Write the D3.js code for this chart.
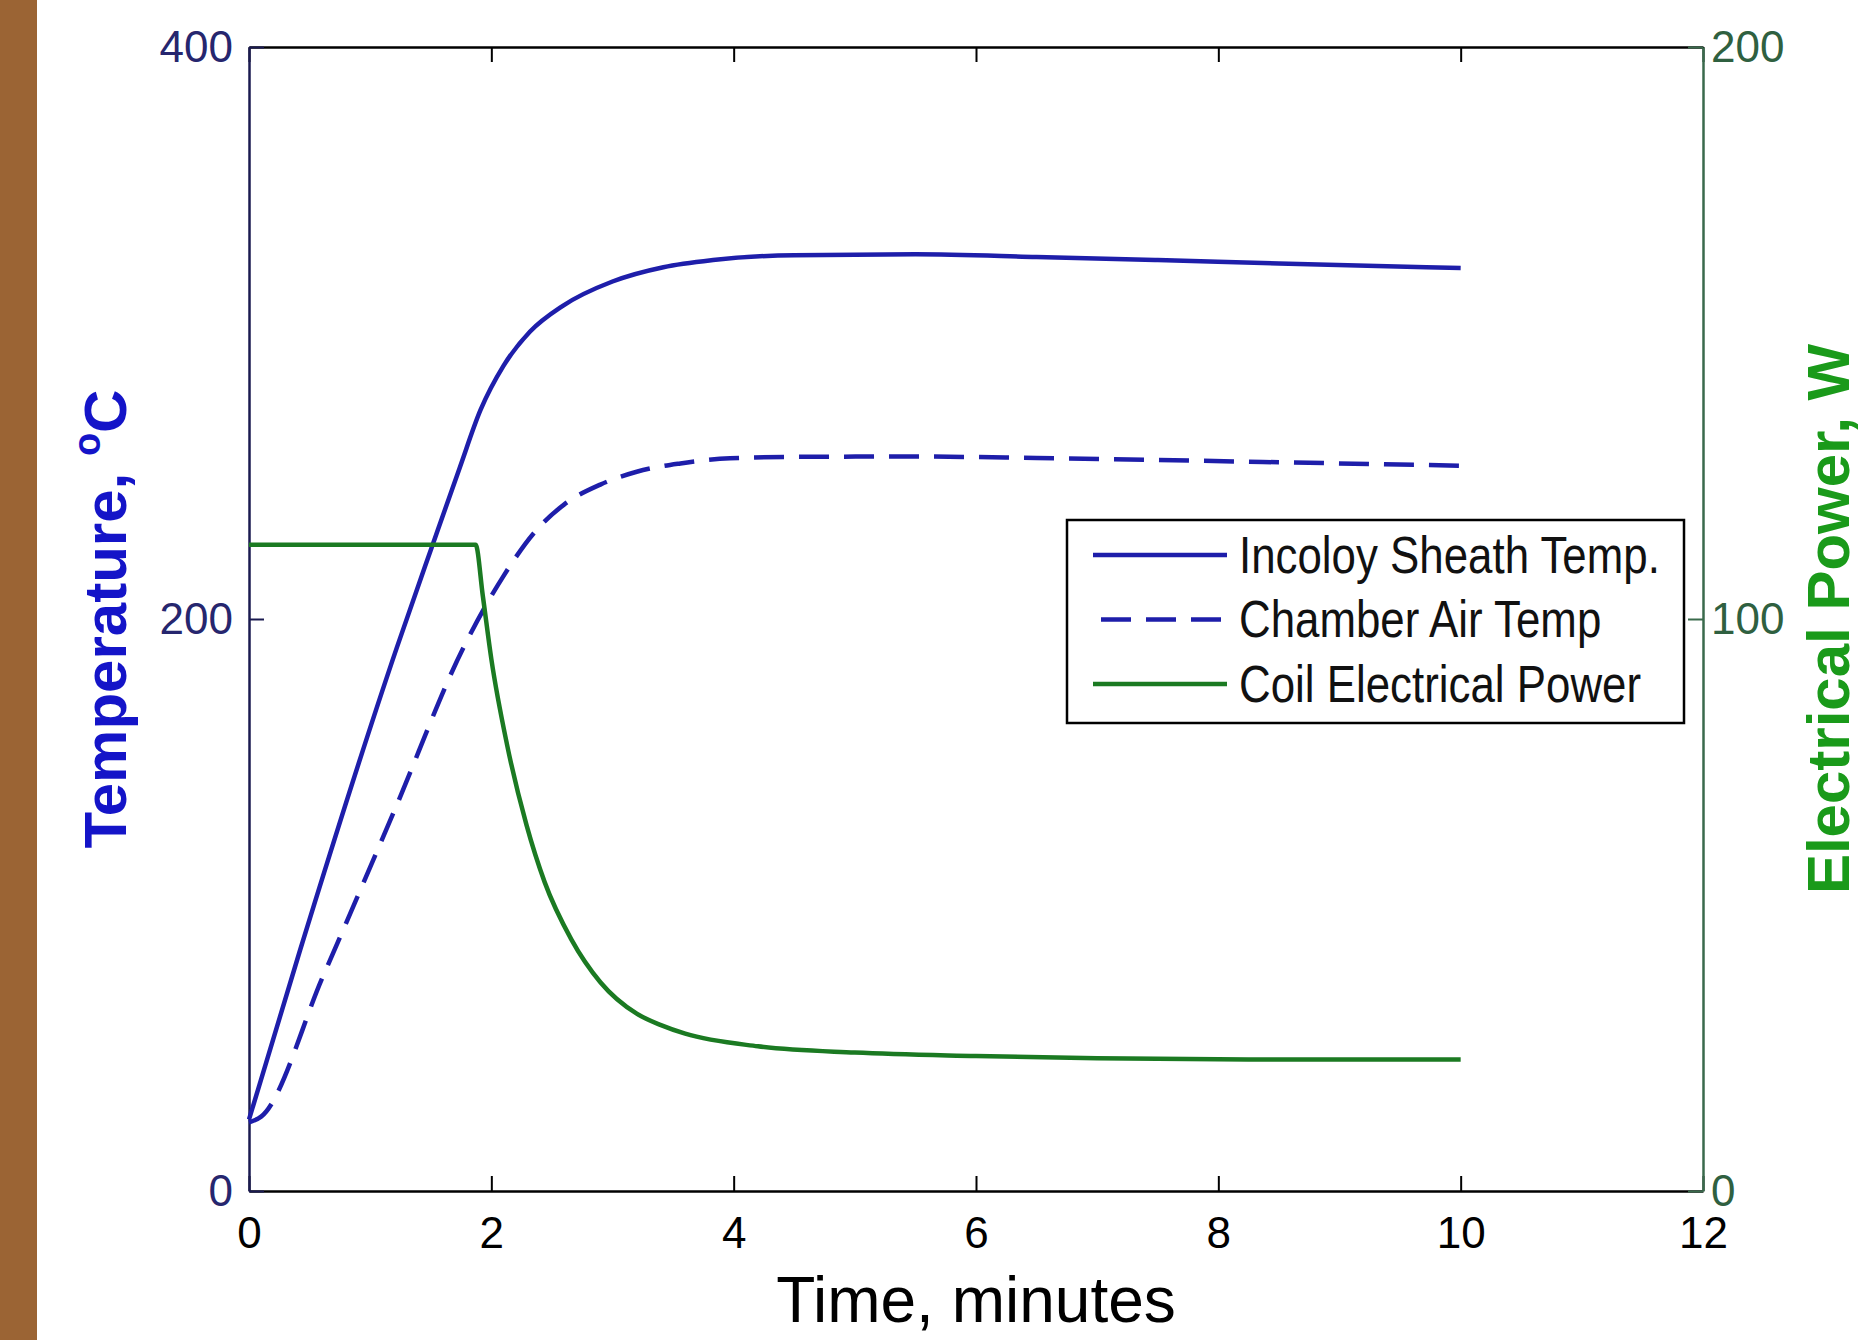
<!DOCTYPE html>
<html>
<head>
<meta charset="utf-8">
<script src="https://cdnjs.cloudflare.com/ajax/libs/d3/7.8.5/d3.min.js"></script>
<style>
  body { margin: 0; background: #fff; }
  .tick text { font-family: "Liberation Sans", Arial, sans-serif; }
</style>
</head>
<body>
<div class="canva"></div>
<script>
// time axis ticks (minutes) and the two y axes
const timeTicks = [0, 2, 4, 6, 8, 10, 12];
const tempTicks = [0, 200, 400];
const powerTicks = [0, 100, 200];

// Incoloy sheath temperature (solid blue)
const sheathTime = [0, 0.42, 1.22, 1.52, 1.74, 1.91, 2.1, 2.32, 2.59, 3.0, 3.42, 3.83, 4.5, 5.5, 6.5, 7.5, 8.5, 10];
const sheathTemp = [25, 84, 190, 226.5, 253, 273, 288.5, 300.5, 309.5, 318, 323, 325.5, 327.2, 327.5, 326.6, 325.5, 324.3, 322.7];

// chamber air temperature (dashed blue)
const airTime = [0, 0.1, 0.61, 1.2, 1.77, 2.1, 2.35, 2.6, 2.9, 3.2, 3.56, 3.97, 4.5, 5.5, 6.5, 7.5, 8.5, 10];
const airTemp = [24, 26, 75, 133, 190, 215, 230, 240, 247, 251.5, 254.4, 256.2, 256.7, 256.8, 256.3, 255.6, 254.8, 253.6];

// coil electrical power (green, right axis)
const powerTime = [0, 1.87, 1.93, 2.0, 2.13, 2.29, 2.44, 2.66, 2.9, 3.2, 3.4, 3.6, 4.2, 5.0, 6.0, 7.0, 8.5, 10];
const powerW = [113, 113, 104, 93, 78, 64, 54, 44, 36.5, 31, 29, 27.5, 25.3, 24.2, 23.6, 23.2, 23, 23];

const legendNames = ['Incoloy Sheath Temp.', 'Chamber Air Temp', 'Coil Electrical Power'];

const W = 1873, H = 1340;
const margin = { top: 47, right: 170, bottom: 149, left: 249 };
const iw = W - margin.left - margin.right;
const ih = H - margin.top - margin.bottom;

const blue = '#1e1eaa';
const green = '#1b7a22';

const svg = d3.select('.canva').append('svg')
    .attr('width', W)
    .attr('height', H);

svg.append('rect').attr('width', W).attr('height', H).attr('fill', '#fff');
// brown strip on the left edge
svg.append('rect').attr('x', 0).attr('y', 0).attr('width', 37).attr('height', H).attr('fill', '#9b6434');

const x = d3.scaleLinear().domain([0, 12]).range([0, iw]);
const yT = d3.scaleLinear().domain([0, 400]).range([ih, 0]);
const yP = d3.scaleLinear().domain([0, 200]).range([ih, 0]);

const g = svg.append('g').attr('transform', `translate(${margin.left},${margin.top})`);

function styleAxis(sel, lineColor, textColor) {
    sel.selectAll('path').attr('stroke', lineColor).attr('stroke-width', 2.5);
    sel.selectAll('line').attr('stroke', lineColor).attr('stroke-width', 2);
    sel.selectAll('text').attr('fill', textColor).attr('font-size', 44);
}

// bottom + top
g.append('g').attr('transform', `translate(0,${ih})`)
    .call(d3.axisBottom(x).tickValues(timeTicks).tickSize(-15).tickPadding(26).tickSizeOuter(0))
    .call(s => styleAxis(s, '#000', '#000'));
g.append('g')
    .call(d3.axisTop(x).tickValues(timeTicks).tickSize(-15).tickFormat('').tickSizeOuter(0))
    .call(s => styleAxis(s, '#000', '#000'));

// left temperature axis
g.append('g')
    .call(d3.axisLeft(yT).tickValues(tempTicks).tickSize(-15).tickPadding(16).tickSizeOuter(0))
    .call(s => styleAxis(s, '#1a1a50', '#26266e'));

// right power axis
g.append('g').attr('transform', `translate(${iw},0)`)
    .call(d3.axisRight(yP).tickValues(powerTicks).tickSize(-15).tickPadding(8).tickSizeOuter(0))
    .call(s => styleAxis(s, '#3a6a4c', '#2f6040'));

const lineT = d3.line().x(d => x(d[0])).y(d => yT(d[1])).curve(d3.curveMonotoneX);
const lineP = d3.line().x(d => x(d[0])).y(d => yP(d[1])).curve(d3.curveMonotoneX);

g.append('path')
    .datum(d3.zip(sheathTime, sheathTemp))
    .attr('d', lineT)
    .attr('fill', 'none').attr('stroke', blue).attr('stroke-width', 4.5);

g.append('path')
    .datum(d3.zip(airTime, airTemp))
    .attr('d', lineT)
    .attr('fill', 'none').attr('stroke', blue).attr('stroke-width', 4.5)
    .attr('stroke-dasharray', '30,15');

g.append('path')
    .datum(d3.zip(powerTime, powerW))
    .attr('d', lineP)
    .attr('fill', 'none').attr('stroke', green).attr('stroke-width', 4.5);

// legend
const leg = svg.append('g').attr('transform', 'translate(1067,520)');
leg.append('rect').attr('width', 617).attr('height', 203)
    .attr('fill', '#fff').attr('stroke', '#000').attr('stroke-width', 2.5);
const legStyles = [
    { c: blue, dash: null },
    { c: blue, dash: '30,15' },
    { c: green, dash: null }
];
legendNames.forEach((name, i) => {
    const yy = 35 + i * 64.5;
    leg.append('line')
        .attr('x1', i === 1 ? 34 : 26).attr('x2', 160).attr('y1', yy).attr('y2', yy)
        .attr('stroke', legStyles[i].c).attr('stroke-width', 4.5)
        .attr('stroke-dasharray', legStyles[i].dash);
    // narrow look of the original font: squeeze horizontally
    leg.append('text')
        .attr('transform', `translate(172,${yy}) scale(0.86,1)`)
        .attr('dy', '0.35em')
        .attr('font-family', '"Liberation Sans", Arial, sans-serif')
        .attr('font-size', 51).attr('fill', '#111')
        .text(name);
});

// axis titles
svg.append('text')
    .attr('x', margin.left + iw / 2).attr('y', 1322)
    .attr('text-anchor', 'middle')
    .attr('font-family', '"Liberation Sans", Arial, sans-serif')
    .attr('font-size', 64).attr('fill', '#000')
    .text('Time, minutes');

const tl = svg.append('text')
    .attr('transform', `translate(126,${margin.top + ih / 2}) rotate(-90)`)
    .attr('text-anchor', 'middle')
    .attr('font-family', '"Liberation Sans", Arial, sans-serif')
    .attr('font-size', 60).attr('font-weight', 'bold').attr('fill', '#1414c8');
tl.append('tspan').text('Temperature, ');
tl.append('tspan').attr('font-size', 38).attr('dy', -26).text('o');
tl.append('tspan').attr('dy', 26).text('C');

svg.append('text')
    .attr('transform', `translate(1849,${margin.top + ih / 2}) rotate(-90)`)
    .attr('text-anchor', 'middle')
    .attr('font-family', '"Liberation Sans", Arial, sans-serif')
    .attr('font-size', 60).attr('font-weight', 'bold').attr('fill', '#1a9a1a')
    .text('Electrical Power, W');
</script>
</body>
</html>
